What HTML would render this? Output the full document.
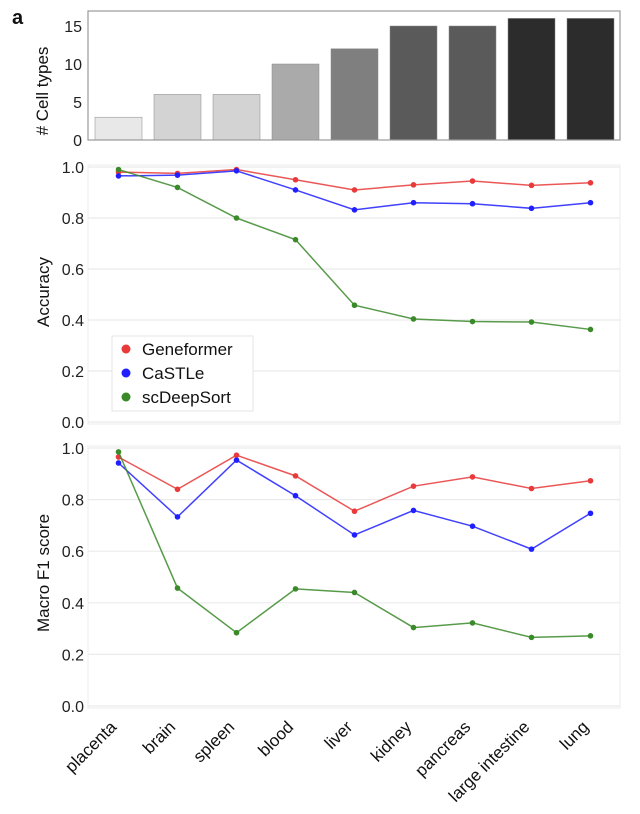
<!DOCTYPE html>
<html><head><meta charset="utf-8"><style>
body{margin:0;background:#fff}
svg{font-family:"Liberation Sans",Arial,sans-serif;display:block}
</style></head><body>
<svg id="chart" width="640" height="814">
<text x="12" y="24" font-size="20" font-weight="bold" fill="#111">a</text>
</svg>
<script>
const categories=["placenta","brain","spleen","blood","liver","kidney","pancreas","large intestine","lung"];
const cellTypes=[3,6,6,10,12,15,15,16,16];
const barShades=["#e8e8e8","#d3d3d3","#d3d3d3","#aaaaaa","#7f7f7f","#5a5a5a","#5a5a5a","#2c2c2c","#2c2c2c"];
const accGeneformer=[0.98,0.975,0.99,0.95,0.91,0.93,0.945,0.928,0.938];
const accCastle=[0.965,0.968,0.985,0.91,0.832,0.86,0.856,0.838,0.86];
const accDeepSort=[0.99,0.92,0.80,0.715,0.458,0.404,0.394,0.392,0.363];
const f1Geneformer=[0.965,0.84,0.972,0.892,0.755,0.852,0.888,0.843,0.873];
const f1Castle=[0.942,0.733,0.953,0.815,0.663,0.758,0.697,0.608,0.747];
const f1DeepSort=[0.985,0.457,0.284,0.454,0.44,0.304,0.322,0.266,0.272];
const barTicks=[0,5,10,15];
const scoreTicks=[0,0.2,0.4,0.6,0.8,1.0];
const seriesNames=["Geneformer","CaSTLe","scDeepSort"];
const seriesColors=["#e83a3a","#1f1fff","#3a8a2a"];

const svg=document.getElementById('chart');
const NS="http://www.w3.org/2000/svg";
function mk(tag,attrs,parent){const e=document.createElementNS(NS,tag);for(const k in attrs)e.setAttribute(k,attrs[k]);(parent||svg).appendChild(e);return e;}
const X0=88,X1=620,pitch=59,firstC=118.5;
const xC=i=>firstC+i*pitch;

const barY=v=>140-v*7.6;
const bg=mk('g',{});


cellTypes.forEach((v,i)=>{
  const r=mk('rect',{x:xC(i)-23.5,y:barY(v),width:47,height:140-barY(v),fill:barShades[i],stroke:"#888","stroke-width":0.5},bg);
  
  
});
const bf=mk('rect',{x:X0,y:11,width:X1-X0,height:129,fill:"none",stroke:"#999","stroke-width":1.2},bg);


barTicks.forEach(t=>{
  const tx=mk('text',{x:82,y:barY(t)+6,"text-anchor":"end","font-size":16,fill:"#222"},bg);
  tx.textContent=t;
  
  
});
const bt=mk('text',{transform:"translate(48,91) rotate(-90)","text-anchor":"middle","font-size":17,fill:"#111"},bg);
bt.textContent="# Cell types";



function linePanel(name,top,zeroY,title,titleY,data){
  const sc=v=>zeroY-v*(zeroY-top);
  const g=mk('g',{});
  
  
  const fr=mk('rect',{x:X0,y:sc(1)-2,width:X1-X0,height:zeroY-sc(1)+4,fill:"none",stroke:"#ececec","stroke-width":1},g);
  
  
  scoreTicks.forEach(t=>{
    const gl=mk('line',{x1:X0,x2:X1,y1:sc(t),y2:sc(t),stroke:"#ebebeb","stroke-width":1.2},g);
    
    
    const tx=mk('text',{x:84,y:sc(t)+6,"text-anchor":"end","font-size":16,fill:"#222"},g);
    tx.textContent=t.toFixed(1);
    
    
  });
  const tt=mk('text',{transform:`translate(49,${titleY}) rotate(-90)`,"text-anchor":"middle","font-size":17,fill:"#111"},g);
  tt.textContent=title;
  
  
  data.forEach((arr,s)=>{
    const pl=mk('polyline',{points:arr.map((v,i)=>xC(i)+','+sc(v)).join(' '),fill:"none",stroke:seriesColors[s],"stroke-width":1.5,"stroke-opacity":0.85},g);
    
    
    arr.forEach((v,i)=>{
      const c=mk('circle',{cx:xC(i),cy:sc(v),r:2.8,fill:seriesColors[s]},g);
      
      
    });
  });
}
linePanel('accuracy',167,422,'Accuracy',292,[accGeneformer,accCastle,accDeepSort]);
linePanel('f1',448,706,'Macro F1 score',573,[f1Geneformer,f1Castle,f1DeepSort]);

const lg=mk('g',{});


const lb=mk('rect',{x:112,y:336,width:141,height:75,fill:"#fff",stroke:"#e4e4e4","stroke-width":1},lg);


seriesNames.forEach((n,s)=>{
  const y=349+s*24;
  const c=mk('circle',{cx:126,cy:y,r:4.5,fill:seriesColors[s]},lg);
  
  
  const t=mk('text',{x:142,y:y+6,"font-size":17,fill:"#111"},lg);
  t.textContent=n;
  
  
});

categories.forEach((c,i)=>{
  const t=mk('text',{transform:`translate(${xC(i)-1},${728}) rotate(-45)`,"text-anchor":"end","font-size":17,fill:"#111"});
  t.textContent=c;
  
  
});
</script>
</body></html>
